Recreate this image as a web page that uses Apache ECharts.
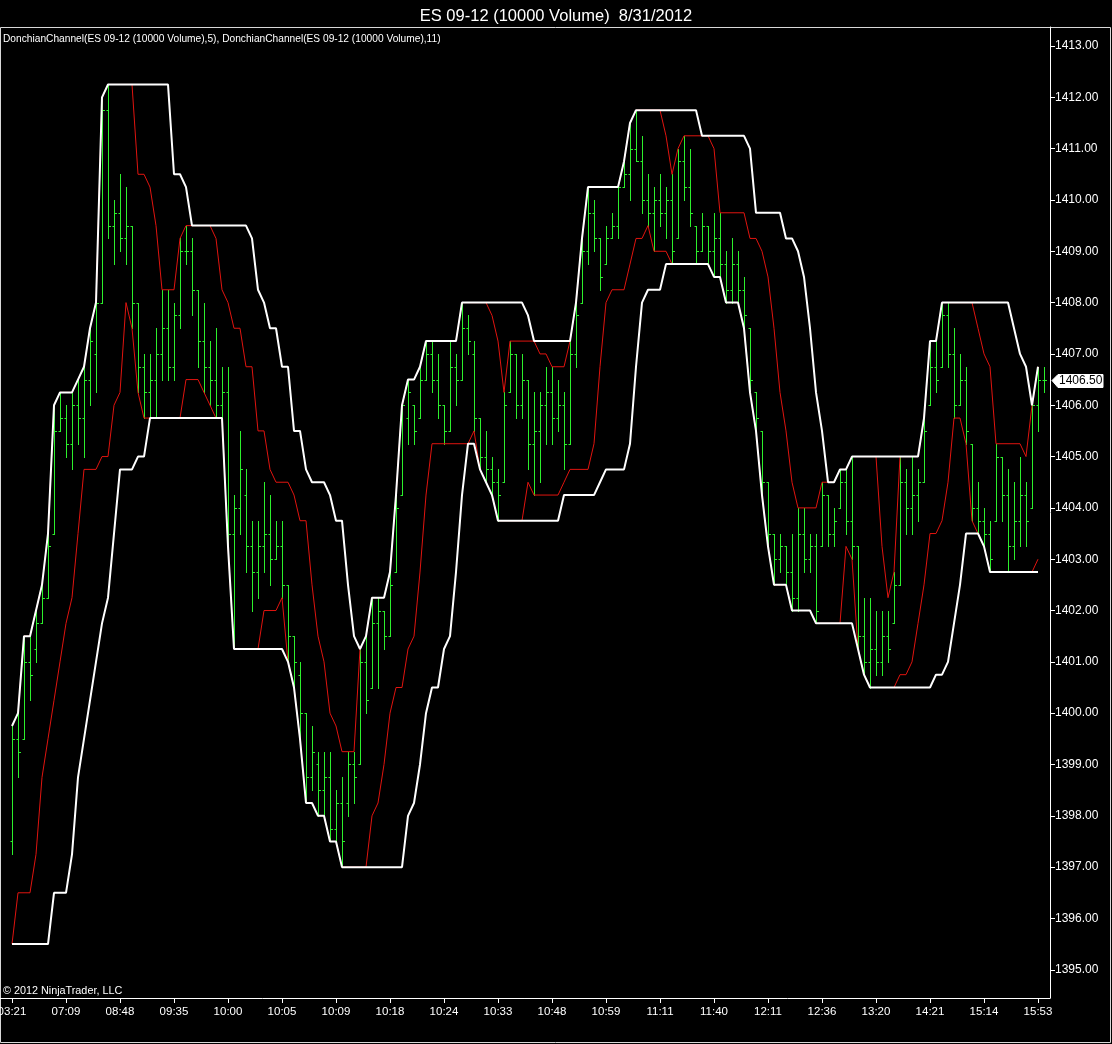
<!DOCTYPE html>
<html>
<head>
<meta charset="utf-8">
<script src="https://cdn.jsdelivr.net/npm/echarts@6/dist/echarts.min.js"></script>
<style>
  html, body { margin: 0; padding: 0; background: #000; }
  #main { width: 1112px; height: 1044px; }
</style>
</head>
<body>
<div id="main"></div>
<script>
// time labels, one every 9 bars starting at bar 0
var tickLabels = ['03:21', '07:09', '08:48', '09:35', '10:00', '10:05', '10:09', '10:18', '10:24', '10:33',
  '10:48', '10:59', '11:11', '11:40', '12:11', '12:36', '13:20', '14:21', '15:14', '15:53'];

// 10000 volume bars (bar 0 .. bar 172)
var barHigh = [1399.75, 1400.0, 1401.5, 1401.5, 1402.0, 1402.5, 1403.5, 1406.0, 1406.25, 1406.0,
  1406.25, 1406.5, 1406.75, 1407.5, 1408.0, 1412.0, 1412.25, 1410.0, 1410.5, 1410.25,
  1409.5, 1408.0, 1407.0, 1407.0, 1407.5, 1408.25, 1408.25, 1408.0, 1409.25, 1409.5,
  1409.25, 1408.25, 1408.0, 1407.25, 1407.5, 1406.75, 1406.75, 1404.25, 1405.5, 1404.75,
  1403.75, 1403.75, 1404.5, 1404.25, 1403.75, 1403.75, 1402.5, 1401.5, 1401.0, 1400.0,
  1399.75, 1399.25, 1399.25, 1399.25, 1398.5, 1398.75, 1399.25, 1399.25, 1401.25, 1401.5,
  1402.25, 1402.25, 1402.0, 1402.75, 1404.25, 1406.0, 1406.5, 1406.0, 1406.75, 1407.25,
  1407.25, 1407.0, 1406.0, 1407.25, 1407.0, 1408.0, 1407.75, 1407.25, 1405.75, 1405.5,
  1405.0, 1404.75, 1406.25, 1407.25, 1407.0, 1407.0, 1406.5, 1406.25, 1406.25, 1406.75,
  1406.75, 1406.5, 1406.25, 1407.25, 1408.0, 1409.25, 1410.25, 1410.0, 1409.25, 1409.5,
  1409.75, 1410.25, 1410.75, 1411.5, 1411.75, 1411.25, 1410.5, 1410.25, 1410.5, 1410.25,
  1410.5, 1411.0, 1411.25, 1411.0, 1409.5, 1409.75, 1409.5, 1409.75, 1409.75, 1409.0,
  1409.25, 1409.0, 1408.5, 1407.5, 1406.25, 1405.5, 1404.5, 1403.5, 1403.5, 1403.25,
  1403.5, 1404.0, 1404.0, 1403.5, 1403.5, 1404.5, 1404.25, 1404.0, 1404.75, 1404.75,
  1405.0, 1403.25, 1402.25, 1402.25, 1402.0, 1402.0, 1402.0, 1402.75, 1405.0, 1404.75,
  1405.0, 1404.75, 1405.75, 1407.25, 1407.25, 1408.0, 1408.0, 1407.5, 1407.0, 1406.75,
  1405.25, 1404.5, 1404.0, 1403.75, 1405.25, 1405.0, 1404.75, 1404.5, 1405.0, 1404.5,
  1406.0, 1406.75, 1406.75];
var barLow = [1397.25, 1398.75, 1399.5, 1400.25, 1401.0, 1401.75, 1402.25, 1403.5, 1405.5, 1405.0,
  1404.75, 1405.25, 1405.0, 1406.0, 1406.25, 1408.0, 1409.25, 1408.75, 1409.0, 1408.75,
  1407.5, 1406.25, 1405.75, 1405.75, 1405.75, 1406.5, 1406.5, 1406.5, 1407.5, 1408.75,
  1407.75, 1406.75, 1406.25, 1406.0, 1405.75, 1405.75, 1403.25, 1401.25, 1403.5, 1402.75,
  1402.0, 1402.25, 1402.75, 1402.5, 1403.0, 1402.25, 1401.0, 1400.5, 1399.5, 1398.25,
  1398.5, 1398.0, 1398.0, 1397.5, 1397.5, 1397.0, 1398.0, 1398.25, 1399.0, 1400.0,
  1400.5, 1400.5, 1401.25, 1401.5, 1402.75, 1404.25, 1405.25, 1405.25, 1405.75, 1406.5,
  1406.25, 1405.75, 1405.25, 1405.5, 1406.0, 1406.5, 1407.0, 1405.5, 1404.75, 1404.5,
  1404.25, 1403.75, 1404.5, 1406.25, 1405.75, 1405.75, 1404.75, 1404.25, 1404.5, 1405.25,
  1405.25, 1405.5, 1404.75, 1405.25, 1406.75, 1408.0, 1408.75, 1409.0, 1408.25, 1408.75,
  1409.25, 1409.25, 1410.25, 1410.0, 1410.75, 1409.75, 1409.5, 1409.0, 1409.5, 1409.25,
  1408.75, 1409.25, 1410.0, 1409.5, 1408.75, 1409.0, 1408.75, 1408.5, 1408.5, 1408.0,
  1408.0, 1408.0, 1407.5, 1406.25, 1405.5, 1404.25, 1403.25, 1402.5, 1402.75, 1402.5,
  1402.0, 1402.0, 1402.75, 1402.75, 1401.75, 1403.25, 1403.25, 1403.25, 1404.0, 1403.5,
  1403.0, 1401.25, 1400.75, 1400.5, 1400.75, 1400.75, 1401.0, 1401.75, 1402.5, 1403.5,
  1403.5, 1403.75, 1404.5, 1406.0, 1406.25, 1406.75, 1406.75, 1405.75, 1406.0, 1405.25,
  1403.75, 1403.5, 1403.25, 1402.75, 1403.75, 1403.75, 1402.75, 1403.0, 1403.25, 1403.25,
  1404.0, 1405.5, 1406.25];
var barOpen = [1397.5, 1399.5, 1399.5, 1401.0, 1401.25, 1401.75, 1402.25, 1403.5, 1405.5, 1405.75,
  1405.25, 1406.0, 1405.75, 1406.5, 1407.0, 1408.0, 1411.75, 1409.5, 1409.75, 1409.25,
  1409.5, 1408.0, 1406.75, 1406.25, 1406.5, 1407.0, 1407.5, 1406.75, 1407.75, 1409.0,
  1409.0, 1408.25, 1407.25, 1406.75, 1406.5, 1406.0, 1406.25, 1403.5, 1404.0, 1404.25,
  1403.25, 1402.75, 1403.25, 1403.5, 1403.0, 1403.25, 1402.5, 1401.5, 1400.75, 1400.0,
  1398.75, 1399.0, 1398.5, 1398.75, 1397.75, 1398.25, 1398.25, 1399.0, 1399.0, 1401.0,
  1400.5, 1401.75, 1402.0, 1401.5, 1402.75, 1404.25, 1405.75, 1406.0, 1405.75, 1406.5,
  1407.0, 1406.5, 1406.0, 1405.5, 1406.75, 1406.5, 1407.5, 1407.0, 1405.75, 1405.0,
  1404.75, 1404.5, 1404.5, 1406.25, 1407.0, 1406.0, 1406.5, 1405.25, 1405.5, 1406.0,
  1406.25, 1405.75, 1406.0, 1405.25, 1407.0, 1408.0, 1409.0, 1409.75, 1409.25, 1408.75,
  1409.25, 1409.5, 1410.25, 1410.5, 1411.0, 1410.75, 1410.0, 1409.75, 1410.0, 1409.75,
  1410.0, 1409.25, 1410.75, 1410.25, 1409.5, 1409.0, 1409.5, 1409.0, 1409.25, 1408.75,
  1408.25, 1408.75, 1408.25, 1407.5, 1406.25, 1405.5, 1404.5, 1403.5, 1403.0, 1403.25,
  1402.75, 1402.25, 1403.5, 1403.0, 1403.25, 1403.25, 1404.25, 1403.5, 1404.0, 1404.5,
  1403.75, 1403.25, 1401.5, 1401.0, 1401.25, 1401.0, 1401.5, 1401.75, 1402.5, 1404.5,
  1404.0, 1404.25, 1404.5, 1406.0, 1406.75, 1406.75, 1407.75, 1407.0, 1406.0, 1406.5,
  1405.25, 1404.0, 1403.75, 1403.5, 1403.75, 1405.0, 1404.25, 1403.25, 1403.75, 1404.25,
  1404.0, 1406.0, 1406.5];
var barClose = [1399.5, 1399.25, 1401.0, 1400.75, 1401.75, 1402.25, 1403.25, 1405.5, 1405.75, 1405.25,
  1406.0, 1405.75, 1406.5, 1407.25, 1408.0, 1411.75, 1409.5, 1409.75, 1409.25, 1409.5,
  1408.0, 1406.75, 1406.25, 1406.5, 1407.0, 1407.5, 1406.75, 1407.75, 1409.0, 1409.0,
  1408.25, 1407.25, 1406.75, 1406.5, 1406.0, 1406.25, 1403.5, 1404.0, 1404.75, 1403.25,
  1402.75, 1403.25, 1403.5, 1403.0, 1403.25, 1402.5, 1401.5, 1401.0, 1400.0, 1398.75,
  1399.25, 1398.5, 1398.75, 1397.75, 1398.25, 1397.5, 1399.0, 1398.75, 1401.0, 1400.25,
  1401.75, 1402.0, 1401.5, 1402.5, 1404.0, 1406.0, 1406.25, 1405.5, 1406.5, 1407.0,
  1406.5, 1406.0, 1405.5, 1406.75, 1406.5, 1407.5, 1407.25, 1405.75, 1405.0, 1404.75,
  1404.5, 1404.25, 1406.0, 1407.0, 1406.0, 1406.5, 1405.25, 1405.5, 1406.0, 1406.25,
  1405.75, 1406.0, 1405.25, 1407.0, 1407.75, 1409.0, 1409.75, 1409.25, 1408.5, 1409.25,
  1409.5, 1410.25, 1410.5, 1411.0, 1410.75, 1410.0, 1409.75, 1410.0, 1409.75, 1410.0,
  1409.0, 1410.75, 1410.25, 1409.75, 1409.0, 1409.5, 1409.0, 1409.25, 1408.75, 1408.25,
  1408.75, 1408.25, 1407.75, 1406.5, 1405.75, 1404.5, 1403.5, 1403.0, 1403.25, 1402.75,
  1402.25, 1403.5, 1403.0, 1403.25, 1402.0, 1404.25, 1403.5, 1403.75, 1404.5, 1403.75,
  1403.25, 1401.5, 1401.0, 1401.25, 1401.0, 1401.5, 1401.25, 1402.5, 1404.5, 1404.0,
  1404.25, 1404.5, 1405.5, 1406.75, 1406.5, 1407.75, 1407.0, 1406.0, 1406.5, 1405.5,
  1404.0, 1403.75, 1403.5, 1403.0, 1405.0, 1404.25, 1403.25, 1403.75, 1404.25, 1403.75,
  1406.0, 1406.5, 1406.5];

// the 10 bars just left of the visible range (only their highs/lows feed the channels)
var priorHigh = [1398.0, 1397.75, 1397.5, 1397.25, 1397.0, 1396.75, 1396.5, 1397.75, 1398.0, 1398.25];
var priorLow = [1396.75, 1396.25, 1396.0, 1395.75, 1395.75, 1396.0, 1395.5, 1396.75, 1397.0, 1396.5];

var fastPeriod = 5;
var slowPeriod = 11;
var leadSlots = 2;   // empty slots before bar 0
var tailSlots = 1;   // empty slot after the last bar

var barColor = '#2cf02c';
var fastColor = '#e0140f';
var slowColor = '#ffffff';

var allHigh = priorHigh.concat(barHigh);
var allLow = priorLow.concat(barLow);
var nBars = barHigh.length;
var nSlots = leadSlots + nBars + tailSlots;

var categories = [];
for (var s = 0; s < nSlots; s++) categories.push(String(s));

// DonchianChannel upper/lower; last (still forming) bar is not plotted
function channel(period, pick, useMax) {
  var out = [];
  for (var s = 0; s < nSlots; s++) out.push(null);
  for (var i = 0; i < nBars - 1; i++) {
    var k = i + priorHigh.length;
    var v = pick[k];
    for (var j = k - period + 1; j <= k; j++) {
      v = useMax ? Math.max(v, pick[j]) : Math.min(v, pick[j]);
    }
    out[i + leadSlots] = v;
  }
  return out;
}

var ohlcData = [];
for (var i = 0; i < nBars; i++) {
  ohlcData.push([i + leadSlots, barOpen[i], barClose[i], barLow[i], barHigh[i]]);
}

function isLabelSlot(idx) {
  var b = idx - leadSlots;
  return b >= 0 && b % 9 === 0 && b / 9 < tickLabels.length;
}

function renderOhlc(params, api) {
  var x = api.value(0);
  var hi = api.coord([x, api.value(4)]);
  var lo = api.coord([x, api.value(3)]);
  var op = api.coord([x, api.value(1)]);
  var cl = api.coord([x, api.value(2)]);
  var px = Math.round(hi[0]) + 0.5;
  var st = { stroke: barColor, lineWidth: 1 };
  return {
    type: 'group',
    children: [
      { type: 'line', shape: { x1: px, y1: Math.round(hi[1]), x2: px, y2: Math.round(lo[1]) + 1 }, style: st },
      { type: 'line', shape: { x1: px - 2, y1: Math.round(op[1]) + 0.5, x2: px, y2: Math.round(op[1]) + 0.5 }, style: st },
      { type: 'line', shape: { x1: px, y1: Math.round(cl[1]) + 0.5, x2: px + 2.5, y2: Math.round(cl[1]) + 0.5 }, style: st }
    ]
  };
}

function bandLine(name, data, color, width, z) {
  return {
    name: name, type: 'line', data: data, z: z,
    showSymbol: false, symbol: 'none', connectNulls: false,
    lineStyle: { color: color, width: width },
    emphasis: { disabled: true }
  };
}

var chart = echarts.init(document.getElementById('main'));
var font = 'Liberation Sans, Arial, sans-serif';

chart.setOption({
  animation: false,
  backgroundColor: '#000',
  textStyle: { fontFamily: font },
  title: [
    { text: 'ES 09-12 (10000 Volume)  8/31/2012', left: 'center', top: 3,
      textStyle: { color: '#fff', fontSize: 16.5, fontWeight: 'normal', fontFamily: font } },
    { text: 'DonchianChannel(ES 09-12 (10000 Volume),5), DonchianChannel(ES 09-12 (10000 Volume),11)',
      left: 3, top: 34, padding: 0,
      textStyle: { color: '#fff', fontSize: 10.2, fontWeight: 'normal', fontFamily: font } },
    { text: '\u00a9 2012 NinjaTrader, LLC', left: 3, top: 986, padding: 0,
      textStyle: { color: '#fff', fontSize: 10.8, fontWeight: 'normal', fontFamily: font } }
  ],
  grid: { left: 0, top: 27, width: (nSlots - 1) * 6, height: 971, containLabel: false, outerBoundsMode: 'none' },
  xAxis: {
    type: 'category',
    data: categories,
    boundaryGap: false,
    axisLine: { lineStyle: { color: '#fff', width: 1 } },
    axisTick: { show: true, inside: false, length: 5, interval: function (idx) { return isLabelSlot(idx); },
      lineStyle: { color: '#fff' } },
    axisLabel: {
      color: '#fff', fontSize: 11.5, margin: 8, fontFamily: font, hideOverlap: false,
      interval: function (idx) { return isLabelSlot(idx); },
      formatter: function (val, idx) { return isLabelSlot(idx) ? tickLabels[(idx - leadSlots) / 9] : ''; }
    },
    splitLine: { show: false }
  },
  yAxis: {
    type: 'value',
    position: 'right',
    min: 1394.45,
    max: 1413.37,
    splitNumber: 19,
    axisLine: { show: true, lineStyle: { color: '#fff', width: 1 } },
    axisTick: { show: true, inside: false, length: 5, lineStyle: { color: '#fff' } },
    axisLabel: {
      color: '#fff', fontSize: 12, margin: 5, fontFamily: font,
      showMinLabel: false, showMaxLabel: false,
      formatter: function (v) { return Math.abs(v - Math.round(v)) < 1e-6 ? v.toFixed(2) : ''; }
    },
    splitLine: { show: false }
  },
  series: [
    { name: 'bars', type: 'custom', renderItem: renderOhlc, data: ohlcData, z: 2,
      encode: { x: 0, y: [1, 2, 3, 4] }, clip: true },
    bandLine('fastUpper', channel(fastPeriod, allHigh, true), fastColor, 1, 3),
    bandLine('fastLower', channel(fastPeriod, allLow, false), fastColor, 1, 3),
    bandLine('slowUpper', channel(slowPeriod, allHigh, true), slowColor, 2, 4),
    bandLine('slowLower', channel(slowPeriod, allLow, false), slowColor, 2, 4)
  ]
});

// last price marker on the price axis
var lastClose = barClose[nBars - 1];
var my = Math.round(chart.convertToPixel({ yAxisIndex: 0 }, lastClose)) + 0.5;
var ax = (nSlots - 1) * 6 + 2;
chart.setOption({
  graphic: [
    { type: 'rect', shape: { x: 0.5, y: 27.5, width: 1110, height: 1015 }, silent: true, z: 0,
      style: { fill: null, stroke: '#d8d8d8', lineWidth: 1 } },
    { type: 'polygon', z: 10,
      shape: { points: [[ax, my], [ax + 6, my - 6], [ax + 51, my - 6], [ax + 51, my + 7], [ax + 6, my + 7]] },
      style: { fill: '#fff', stroke: '#fff' } },
    { type: 'text', z: 11, x: ax + 7, y: my - 6,
      style: { text: lastClose.toFixed(2), fill: '#000', font: '12px ' + font, textVerticalAlign: 'top' } }
  ]
});
</script>
</body>
</html>
